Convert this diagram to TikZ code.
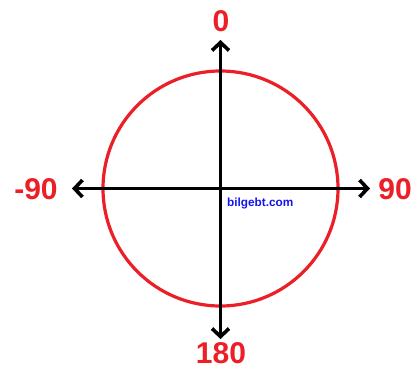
\documentclass[tikz,border=0pt]{standalone}
\usepackage{fontspec}
\setmainfont{Liberation Sans}
\usetikzlibrary{arrows.meta}
\definecolor{labred}{RGB}{236,30,38}
\definecolor{webblue}{RGB}{20,20,235}
\tikzset{
  axis/.style={line width=3.8pt, black, -{Straight Barb[length=8pt,width=17pt,line width=3.6pt]}},
  ring/.style={line width=3.2pt, labred},
  anglelabel/.style={font=\bfseries\fontsize{30}{30}\selectfont, text=labred, inner sep=0pt},
  credit/.style={font=\bfseries\fontsize{11.8}{12}\selectfont, text=webblue, inner sep=0pt, anchor=west}
}
\begin{document}
\begin{tikzpicture}[x=1pt,y=-1pt]
\useasboundingbox (0,0) rectangle (417,369);
\coordinate (c) at (220.5,188.5);
\node[ring, draw, circle, minimum size=235pt, inner sep=0pt] (ring) at (c) {};
\coordinate (top) at (220.5,40);
\coordinate (bottom) at (220.5,339);
\coordinate (left) at (72,188.5);
\coordinate (right) at (370,188.5);
\draw[axis] (c) -- (top);
\draw[axis] (c) -- (bottom);
\draw[axis] (c) -- (left);
\draw[axis] (c) -- (right);
\node[anglelabel] (l0) at (221,21) {0};
\node[anglelabel] (lm90) at (36,189.5) {-90};
\node[anglelabel] (l90) at (395,189.5) {90};
\node[anglelabel] (l180) at (221,353.5) {180};
\node[credit] (web) at (227,203) {bilgebt.com};
\end{tikzpicture}
\end{document}
